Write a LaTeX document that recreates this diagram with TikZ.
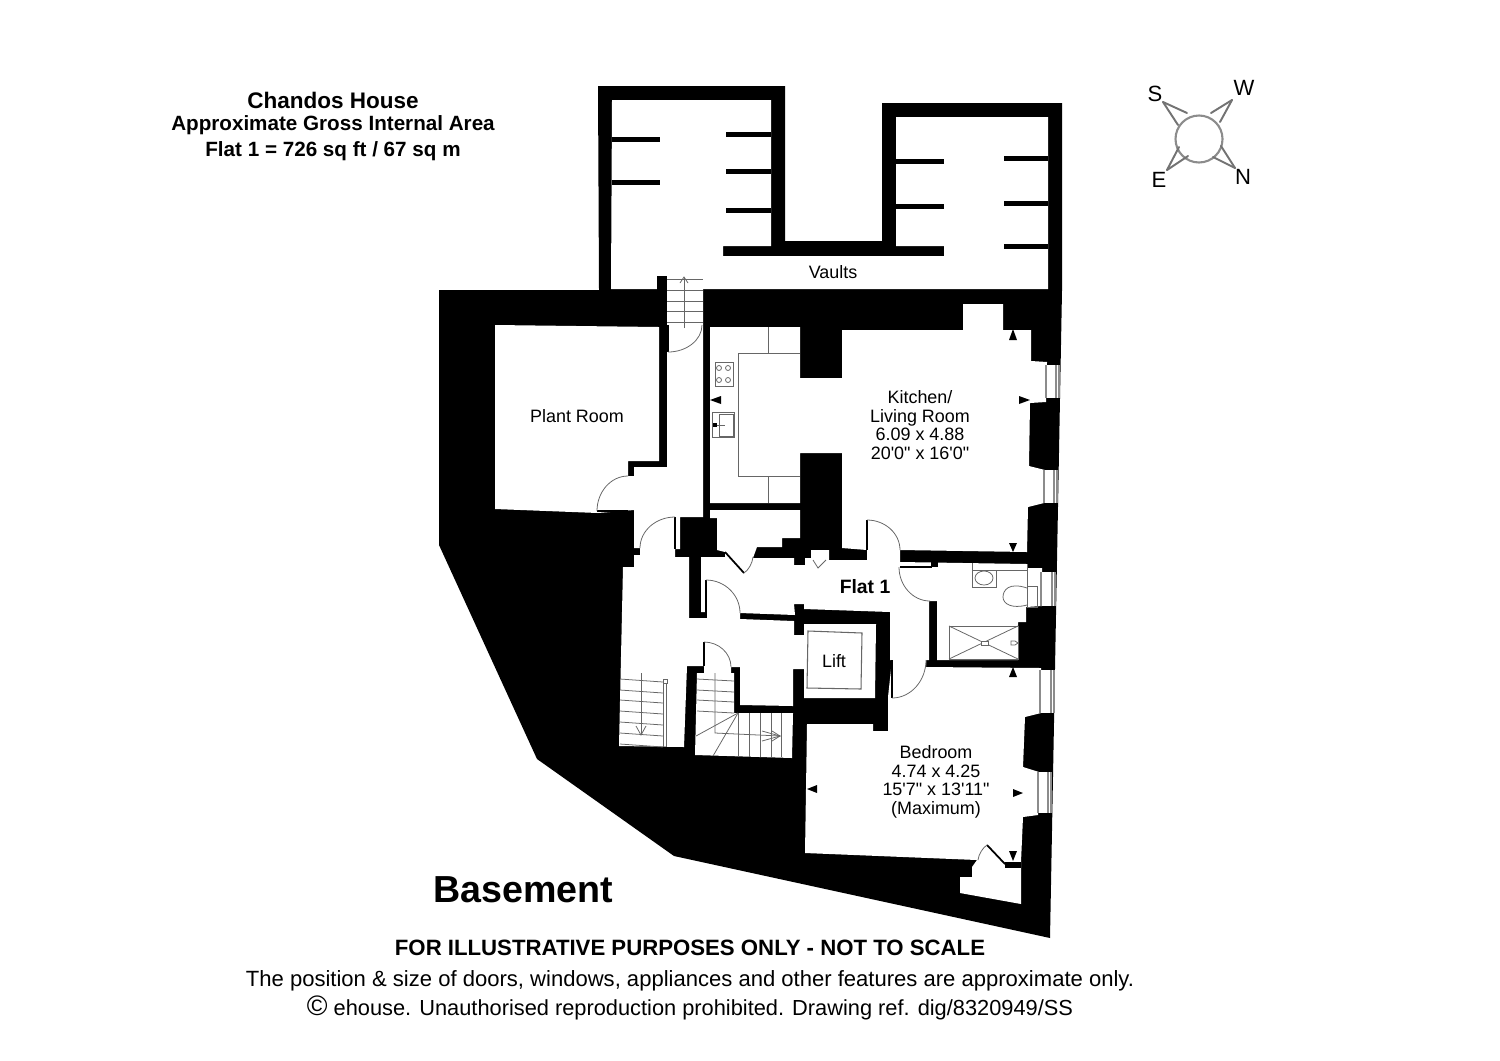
\documentclass[tikz,border=0pt]{standalone}
\usepackage{fontspec}
\setmainfont{Liberation Sans}[Ligatures=TeXOff]
\usetikzlibrary{calc}

% quarter swing of a door: from, corner, to
\newcommand{\doorswing}[3]{\draw[fitting] (#1) .. controls ($(#1)!0.55!(#2)$) and ($(#3)!0.55!(#2)$) .. (#3);}

\begin{document}
\begin{tikzpicture}[%
    x=0.01cm,
    y=-0.01cm,
    wall/.style={fill=black, draw=none},
    room/.style={fill=white, draw=none},
    fitting/.style={draw=black!60, line width=0.22pt},
    leaf/.style={draw=black, line width=0.35pt},
    glass/.style={draw=black!45, line width=0.3pt},
    arm/.style={draw=black!55, line width=0.55pt, line cap=round},
    tip/.style={fill=black, draw=none},
    label/.style={align=center, inner sep=0pt, font=\fontsize{5.1}{5.25}\selectfont},
    heading/.style={align=center, inner sep=0pt, font=\bfseries\fontsize{5.87}{6.2}\selectfont},
    notice/.style={align=center, inner sep=0pt, font=\fontsize{6.27}{8.4}\selectfont},
  ]
    \useasboundingbox (0,0) rectangle (1500,1060);

    % outer mass and vaults
    \fill[wall] (439,290) -- (599,290) -- (598,86) -- (785,86) -- (785,241) -- (882,241) -- (882,103)
        -- (1062,103) -- (1062,290) -- (1050,938) -- (674,856) -- (537,759) -- (439,545) -- cycle;
    \fill[room] (612,100) -- (771,100) -- (771,246) -- (723,246) -- (723,256) -- (944,256) -- (944,246)
        -- (896,246) -- (896,117) -- (1048,117) -- (1048,289) -- (611,289) -- cycle;
    \foreach \ya in {137,180} \fill[wall] (612,\ya) rectangle (660,\ya+5);
    \foreach \ya in {132,169,208} \fill[wall] (726,\ya) rectangle (771,\ya+5);
    \foreach \ya in {159,204} \fill[wall] (896,\ya) rectangle (944,\ya+5);
    \foreach \ya in {156,201,244} \fill[wall] (1004,\ya) rectangle (1048,\ya+5);
    \fill[wall] (657,276) rectangle (667,290);

    % plant room, corridor, halls, cupboard, bathroom, stair room
    \fill[room] (495,325) -- (659,327) -- (659,461) -- (628,461) -- (628,476) -- (634,476) -- (634,467)
        -- (667,467) -- (667,279) -- (703,279) -- (703,517) -- (680,517) -- (680,549) -- (675,549)
        -- (675,557) -- (689,557) -- (689,618) -- (706,618) -- (706,612) -- (701,612) -- (701,557)
        -- (725,557) -- (725,552) -- (717,550) -- (717,518) -- (710,518) -- (710,510) -- (800,510)
        -- (800,538) -- (782,538) -- (782,547) -- (757,547) -- (753,558) -- (794,558) -- (794,565)
        -- (805,565) -- (805,558) -- (811,558) -- (811,550) -- (829,550) -- (829,560) -- (867,560)
        -- (867,548) -- (900,548) -- (900,562) -- (1027,564) -- (1027,568) -- (1042,568) -- (1042,606)
        -- (1026,607) -- (1026,622) -- (1018,622) -- (1018,660) -- (937,660) -- (937,601) -- (929,601)
        -- (929,660) -- (926,660) -- (926,667) -- (892,667) -- (892,660) -- (890,660) -- (890,612)
        -- (804,609) -- (804,604) -- (794,604) -- (795,615) -- (740,613) -- (740,619) -- (794,621)
        -- (794,635) -- (804,635) -- (804,624) -- (876,624) -- (875,698) -- (804,698) -- (804,669)
        -- (793,669) -- (793,706) -- (740,705) -- (740,667) -- (731,667) -- (731,673) -- (734,673)
        -- (734,713) -- (793,713) -- (792,758) -- (695,755) -- (697,673) -- (704,673) -- (704,666)
        -- (687,666) -- (684,747) -- (619,746) -- (623,567) -- (634,567) -- (634,555) -- (640,555)
        -- (640,548) -- (634,548) -- (634,510) -- (598,513) -- (495,509) -- cycle;

    % kitchen
    \fill[room] (710,327) -- (800,327) -- (800,378) -- (842,378) -- (842,330) -- (963,330) -- (963,304)
        -- (1003,304) -- (1003,330) -- (1031,330) -- (1031,361) -- (1047,362) -- (1046,402) -- (1030,403)
        -- (1029,466) -- (1045,470) -- (1044,503) -- (1028,507) -- (1027,552) -- (900,550) -- (867,550)
        -- (842,548) -- (842,453) -- (800,453) -- (800,503) -- (710,503) -- cycle;

    % bedroom
    \fill[room] (926,667) -- (1041,668) -- (1041,713) -- (1025,717) -- (1023,767) -- (1039,772)
        -- (1038,815) -- (1023,817) -- (1021,862) -- (1021,904) -- (960,893) -- (960,877) -- (972,877)
        -- (972,867) -- (977,860) -- (805,853) -- (807,724) -- (873,724) -- (873,731) -- (888,731)
        -- (888,697) -- (892,660) -- cycle;
    \fill[wall] (1005,862) rectangle (1021,868);

    % windows
    \foreach \xa/\xb/\ya/\yb in {1046/1060/365/398, 1044/1058/470/503, 1041/1056/572/606, 1040/1055/670/713, 1038/1052/772/813} {
      \fill[room] (\xa,\ya) rectangle (\xb,\yb);
      \draw[glass] (\xa,\ya) -- (\xa,\yb);
      \draw[glass] (\xb-4,\ya) -- (\xb-4,\yb);
      \draw[glass] (\xb-1,\ya) -- (\xb-1,\yb);
    }

    % doors
    \draw[leaf] (668,325) -- (668,352);
    \doorswing{702,325}{702,352}{668,352}
    \draw[leaf] (597,511) -- (628,511);
    \doorswing{597,511}{597,476}{628,476}
    \draw[leaf] (675,517) -- (675,549);
    \doorswing{675,517}{640,517}{640,548}
    \draw[leaf, line width=0.5pt] (725,552) -- (744,573);
    \doorswing{744,573}{752,568}{753,557}
    \draw[fitting] (813,560) -- (818,568) -- (826,560);
    \draw[leaf] (867,520) -- (867,550);
    \doorswing{867,520}{900,520}{900,550}
    \draw[leaf] (900,567) -- (932,567);
    \fill[wall] (931,562) rectangle (938,567);
    \doorswing{899,567}{899,601}{930,601}
    \draw[leaf] (706,580) -- (706,618);
    \doorswing{706,580}{740,580}{740,613}
    \draw[leaf] (704,642) -- (704,666);
    \doorswing{704,642}{731,642}{731,667}
    \draw[leaf] (892,660) -- (892,698);
    \doorswing{892,698}{926,698}{926,660}
    \draw[leaf, line width=0.5pt] (987,845) -- (1005,864);
    \doorswing{987,845}{979,850}{978,860}

    % kitchen units
    \draw[fitting] (768,327) -- (768,353);
    \draw[fitting] (800,353) -- (738,353) -- (738,476) -- (800,476);
    \draw[fitting] (768,476) -- (768,503);
    \draw[fitting] (715,362) rectangle (733,386);
    \foreach \xa in {719,728} \foreach \ya in {368,380} \draw[fitting] (\xa,\ya) circle (2.5);
    \draw[fitting] (712,412) rectangle (734,437);
    \draw[fitting] (719,414) rectangle (733,436);
    \fill[wall] (713,423) rectangle (717,427);
    \draw[fitting] (717,425) -- (725,425);

    % bathroom fittings
    \draw[fitting] (972,563) -- (972,587) -- (996,587) -- (996,570);
    \draw[fitting] (972,570) -- (1027,570);
    \draw[fitting] (984,578) ellipse (9 and 7);
    \draw[fitting] (1027,564) -- (1027,586);
    \draw[fitting] (1027,588) .. controls (1009,582) and (1003,590) .. (1003,597) .. controls (1003,604) and (1012,609) .. (1027,605);
    \draw[fitting] (1027,586) rectangle (1037,607);
    \draw[fitting] (949,626) rectangle (1018,659);
    \draw[fitting] (949,626) -- (1018,659);
    \draw[fitting] (949,659) -- (1018,626);
    \fill[room] (981,641) rectangle (988,645);
    \draw[fitting] (981,641) rectangle (988,645);
    \draw[fitting] (1011,641) -- (1015,641) -- (1018,643) -- (1015,645) -- (1011,645) -- cycle;

    % lift car
    \draw[fitting, line width=0.3pt] (808,631) -- (862,633) -- (861,689) -- (807,688) -- cycle;

    % stairs
    \foreach \ya in {279,290,301,311,322} \draw[fitting] (667,\ya) -- (703,\ya);
    \draw[fitting] (684,328) -- (684,278);
    \draw[fitting] (680,283) -- (684,277) -- (688,283);

    \foreach \ya in {679,690,700,711,722,733,744} \draw[fitting] (620,\ya) -- (663,\ya+3);
    \draw[fitting] (663,684) -- (663,747);
    \draw[fitting] (666,684) -- (666,747);
    \draw[fitting] (663,679) rectangle (667,683);
    \draw[fitting] (641,673) -- (641,735);
    \draw[fitting] (636,726) -- (641,735) -- (646,726);

    \foreach \ya in {679,690,700,711} \draw[fitting] (697,\ya) -- (734,\ya+2);
    \draw[fitting] (715,673) -- (715,733) -- (780,736);
    \draw[fitting] (762,731) -- (780,736) -- (762,741);
    \draw[fitting] (772,731) -- (780,736) -- (772,741);
    \draw[fitting] (696,736) -- (738,713);
    \draw[fitting] (713,756) -- (738,713);
    \foreach \xa in {738,749,760,771,781} \draw[fitting] (\xa,713) -- (\xa,757);

    % dimension tips
    \fill[tip] (1013,329) -- (1017,340) -- (1009,340) -- cycle;
    \fill[tip] (710,400) -- (721,396) -- (721,404) -- cycle;
    \fill[tip] (1030,400) -- (1019,396) -- (1019,404) -- cycle;
    \fill[tip] (1013,552) -- (1017,543) -- (1009,543) -- cycle;
    \fill[tip] (1013,667) -- (1017,677) -- (1009,677) -- cycle;
    \fill[tip] (807,789) -- (817,785) -- (817,793) -- cycle;
    \fill[tip] (1023,793) -- (1013,789) -- (1013,797) -- cycle;
    \fill[tip] (1013,861) -- (1017,851) -- (1009,851) -- cycle;

    % compass
    \draw[glass, line width=0.6pt] (1199,139) circle (23.5);
    \foreach \xa/\ya/\xb/\yb/\xc/\yc in {1163/102/1187/113/1178/125, 1232/100/1211/113/1220/122,
        1235/168/1213/157/1221/146, 1167/170/1179/147/1188/156} {
      \draw[arm] (\xa,\ya) -- (\xb,\yb);
      \draw[arm] (\xa,\ya) -- (\xc,\yc);
    }
    \node[notice] (compassS) at (1155,94) {S};
    \node[notice] (compassW) at (1244,88) {W};
    \node[notice] (compassN) at (1243,177) {N};
    \node[notice] (compassE) at (1159,180) {E};

    % texts
    \node[heading, font=\bfseries\fontsize{6.4}{6.4}\selectfont] (house) at (333,100) {Chandos House};
    \node[heading] (area) at (333,125) {Approximate Gross Internal Area};
    \node[heading] (flatarea) at (333,151) {Flat 1 = 726 sq ft / 67 sq m};
    \node[label] (vaults) at (833,272) {Vaults};
    \node[label] (plant) at (577,416) {Plant Room};
    \node[label] (kitchen) at (920,425) {Kitchen/\\Living Room\\6.09 x 4.88\\20'0" x 16'0"};
    \node[heading, font=\bfseries\fontsize{5.5}{6}\selectfont] (flat) at (865,587) {Flat 1};
    \node[label] (lift) at (834,661) {Lift};
    \node[label] (bedroom) at (936,782) {Bedroom\\4.74 x 4.25\\15'7" x 13'11"\\(Maximum)};
    \node[heading, font=\bfseries\fontsize{10.7}{11}\selectfont] (floor) at (523,890) {Basement};
    \node[notice, font=\bfseries\fontsize{6.31}{7}\selectfont] (warning) at (690,948) {FOR ILLUSTRATIVE PURPOSES ONLY - NOT TO SCALE};
    \node[notice] (position) at (690,981) {The position \& size of doors, windows, appliances and other features are approximate only.};
    \node[notice] (copyright) at (690,1008) {\fontsize{8}{8}\selectfont©\fontsize{6.2}{8}\selectfont\ ehouse. Unauthorised reproduction prohibited. Drawing ref. dig/8320949/SS};
  \end{tikzpicture}
\end{document}
